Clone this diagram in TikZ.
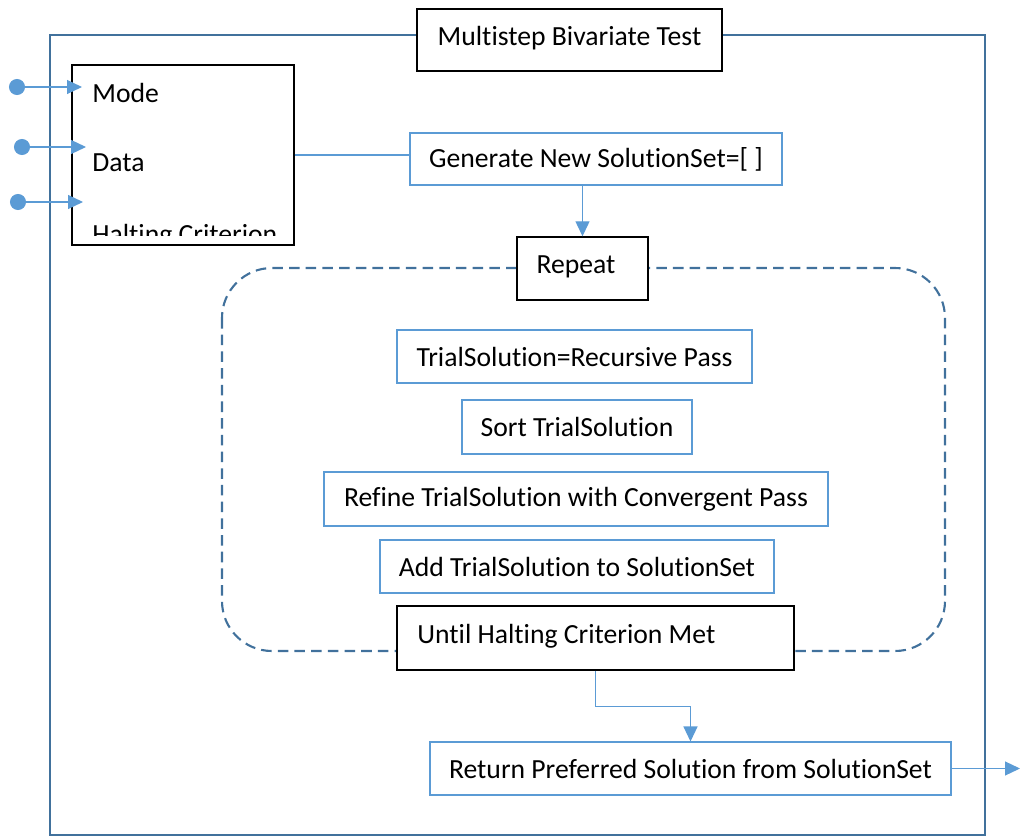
\documentclass[tikz,border=0pt]{standalone}
\usepackage{fontspec}
\setmainfont{Carlito}[Ligatures=NoCommon]
\usepackage{tikz}
\usetikzlibrary{arrows.meta}
\definecolor{frameblue}{RGB}{65,113,156}
\definecolor{lineblue}{RGB}{91,155,213}
\tikzset{
    bluebox/.style={
        draw=lineblue, line width=0.6pt, rectangle,
        fill=white, inner sep=0pt, text=black
    },
    blackbox/.style={
        draw=black, line width=0.8pt, rectangle,
        fill=white, inner sep=0pt, text=black
    },
    label text/.style={anchor=base west, inner sep=0pt, text=black},
    connect/.style={-{Triangle[length=0.3cm,width=0.28cm]}, draw=lineblue, line width=0.7pt},
    feed/.style={{Circle[length=0.32cm]}-{Triangle[length=0.3cm,width=0.28cm]}, draw=lineblue, line width=0.7pt},
    frame/.style={draw=frameblue, line width=1.2pt}
}

\begin{document}
\begin{tikzpicture}[font=\fontsize{15.75}{19}\selectfont]
	\useasboundingbox (0,0) rectangle (20.4,-16.74);

	% outer frame and repeat loop
	\draw[frame] (1,-0.7) rectangle (19.7,-16.7);
	\draw[frame, dash pattern=on 6pt off 3.5pt, rounded corners=1cm] (4.44,-5.36) rectangle (18.9,-13.02);

	\node[blackbox, minimum width=6.1cm, minimum height=1.24cm] (title) at (11.39,-0.8) {};
	\node[inner sep=0pt, anchor=base] (titletxt) at (11.39,-0.9) {Multistep Bivariate Test};

	% inputs
	\node[blackbox, minimum width=4.44cm, minimum height=3.6cm] (inbox) at (3.66,-3.1) {};
	\node[label text] (mode) at (1.84,-2.04) {Mode};
	\node[label text] (data) at (1.84,-3.42) {Data};
	\begin{scope}
		\clip (inbox.north west) rectangle (5.88,-4.70);
		\node[label text] (halt) at (1.84,-4.86) {Halting Criterion};
	\end{scope}

	\coordinate (dotA) at (0.18,-1.74);
	\coordinate (tipA) at (1.64,-1.74);
	\coordinate (dotB) at (0.28,-2.94);
	\coordinate (tipB) at (1.72,-2.94);
	\coordinate (dotC) at (0.20,-4.04);
	\coordinate (tipC) at (1.66,-4.04);
	\draw[feed] (dotA) -- (tipA);
	\draw[feed] (dotB) -- (tipB);
	\draw[feed] (dotC) -- (tipC);

	% steps
	\node[bluebox, minimum width=7.44cm, minimum height=1.04cm] (gen) at (11.92,-3.18) {Generate New SolutionSet=[ ]};
	\node[blackbox, minimum width=2.62cm, minimum height=1.26cm] (rep) at (11.65,-5.37) {};
	\node[inner sep=0pt, anchor=base] (reptxt) at (11.52,-5.46) {Repeat};
	\node[bluebox, minimum width=7.1cm, minimum height=1.06cm] (trial) at (11.49,-7.13) {TrialSolution=Recursive Pass};
	\node[bluebox, minimum width=4.6cm, minimum height=1.08cm] (sort) at (11.54,-8.54) {Sort TrialSolution};
	\node[bluebox, minimum width=10.08cm, minimum height=1.08cm] (refine) at (11.52,-9.98) {Refine TrialSolution with Convergent Pass};
	\node[bluebox, minimum width=7.88cm, minimum height=1.06cm] (add) at (11.54,-11.33) {Add TrialSolution to SolutionSet};
	\node[blackbox, minimum width=7.94cm, minimum height=1.28cm] (until) at (11.91,-12.76) {};
	\node[label text] (untiltxt) at (8.34,-12.86) {Until Halting Criterion Met};
	\node[bluebox, minimum width=10.42cm, minimum height=1.06cm] (ret) at (13.81,-15.37) {Return Preferred Solution from SolutionSet};
	\coordinate (out) at (20.4,-15.37);

	% connections
	\draw[lineblue, line width=0.7pt] (inbox.east) -- (inbox.east -| gen.west);
	\draw[connect] (gen.south -| rep.north) -- (rep.north);
	\draw[connect] (until.south) -- ++(0,-0.72) -| (ret.north);
	\draw[connect] (ret.east) -- (out);
\end{tikzpicture}
\end{document}
